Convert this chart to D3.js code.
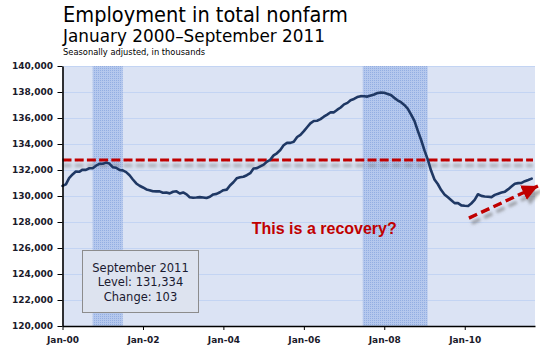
<!DOCTYPE html>
<html>
<head>
<meta charset="utf-8">
<script src="https://cdn.jsdelivr.net/npm/d3@7/dist/d3.min.js"></script>
<style>
  html, body { margin: 0; padding: 0; background: #ffffff; }
  svg { display: block; }
</style>
</head>
<body>
<script>
// ---------------- DATA ----------------
const titleText = "Employment in total nonfarm";
const subtitleText = "January 2000\u2013September 2011";
const noteText = "Seasonally adjusted, in thousands";

const firstMonth = "2000-01-01";
// Total nonfarm employment, thousands, monthly Jan 2000 – Sep 2011
const employment = [
  // 2000
  130781, 130898, 131370, 131658, 131883, 131862, 132024, 132010, 132135, 132129, 132331, 132469,
  // 2001
  132484, 132567, 132496, 132214, 132172, 132006, 131971, 131836, 131593, 131270, 130964, 130786,
  // 2002
  130656, 130504, 130448, 130361, 130352, 130356, 130253, 130264, 130203, 130327, 130360, 130191,
  // 2003
  130273, 130128, 129910, 129869, 129883, 129912, 129889, 129847, 129946, 130122, 130164, 130289,
  // 2004
  130445, 130490, 130813, 131059, 131360, 131436, 131478, 131600, 131757, 132110, 132147, 132279,
  // 2005
  132415, 132651, 132787, 133127, 133286, 133539, 133906, 134087, 134087, 134175, 134537, 134705,
  // 2006
  134990, 135305, 135588, 135771, 135792, 135911, 136100, 136262, 136440, 136436, 136639, 136810,
  // 2007
  137048, 137162, 137370, 137462, 137610, 137682, 137672, 137646, 137725, 137807, 137924, 137951,
  // 2008
  137941, 137853, 137767, 137550, 137363, 137218, 137004, 136718, 136258, 135778, 135007, 134307,
  // 2009
  133489, 132763, 131961, 131276, 130924, 130457, 130118, 129900, 129675, 129450, 129456, 129277,
  // 2010
  129246, 129232, 129424, 129701, 130133, 130009, 129966, 129940, 129916, 130087, 130180, 130266,
  // 2011
  130334, 130528, 130722, 130939, 130992, 131012, 131139, 131231, 131334
];

const xDomain = ["2000-01-01", "2011-10-01"];
const xTickDates = ["2000-01-01", "2002-01-01", "2004-01-01", "2006-01-01", "2008-01-01", "2010-01-01"];
const xTickLabels = ["Jan-00", "Jan-02", "Jan-04", "Jan-06", "Jan-08", "Jan-10"];
const yTicks = [120000, 122000, 124000, 126000, 128000, 130000, 132000, 134000, 136000, 138000, 140000];

const recessionStarts = ["2000-10-01", "2007-06-20"];
const recessionEnds = ["2001-07-01", "2009-01-29"];

const referenceLevel = 132770;

const arrowDates = ["2010-02-08", "2011-10-28"];
const arrowValues = [128300, 130770];

const annotationText = "This is a recovery?";
const annotationDate = "2004-09-15";
const annotationValue = 127040;

const tooltipLines = ["September 2011", "Level: 131,334", "Change: 103"];

// ---------------- LAYOUT ----------------
const W = 540, H = 356;
const margin = { left: 62.5, top: 66, right: 5, bottom: 30 };
const plotW = W - margin.left - margin.right;   // 472.5
const plotH = H - margin.top - margin.bottom;   // 260

const parse = d3.utcParse("%Y-%m-%d");
const start = parse(firstMonth);
const series = employment.map((v, i) => ({ date: d3.utcMonth.offset(start, i), value: v }));

const x = d3.scaleUtc().domain(xDomain.map(parse)).range([margin.left, margin.left + plotW]);
const y = d3.scaleLinear().domain([120000, 140000]).range([margin.top + plotH, margin.top]);

const svg = d3.select("body").append("svg").attr("width", W).attr("height", H);
const defs = svg.append("defs");

// band pattern (fine dotted grid)
const pat = defs.append("pattern").attr("id", "band").attr("width", 2).attr("height", 2)
  .attr("patternUnits", "userSpaceOnUse");
pat.append("rect").attr("width", 2).attr("height", 2).attr("fill", "#b5c8ed");
pat.append("rect").attr("width", 1).attr("height", 1).attr("fill", "#93aee2");

// drop shadow filters (user-space regions so zero-height lines still render)
const f1 = defs.append("filter").attr("id", "shadow").attr("filterUnits", "userSpaceOnUse")
  .attr("x", 0).attr("y", 0).attr("width", W).attr("height", H);
f1.append("feDropShadow").attr("dx", 0).attr("dy", 5.5).attr("stdDeviation", 1.4)
  .attr("flood-color", "#7a7a7a").attr("flood-opacity", 0.55);
const f2 = defs.append("filter").attr("id", "shadow2").attr("filterUnits", "userSpaceOnUse")
  .attr("x", 0).attr("y", 0).attr("width", W).attr("height", H);
f2.append("feDropShadow").attr("dx", 3).attr("dy", 5).attr("stdDeviation", 1.5)
  .attr("flood-color", "#6f6f6f").attr("flood-opacity", 0.6);

defs.append("marker").attr("id", "head").attr("markerUnits", "userSpaceOnUse")
  .attr("markerWidth", 18).attr("markerHeight", 18).attr("refX", 16).attr("refY", 8)
  .attr("orient", "auto")
  .append("path").attr("d", "M0,0 L16,8 L0,16 Z").attr("fill", "#c00000");

// ---------------- TITLES ----------------
const titleFont = "Tahoma, 'DejaVu Sans', Verdana, sans-serif";
svg.append("text").attr("x", 63).attr("y", 22).attr("font-family", titleFont)
  .attr("font-size", 21).attr("fill", "#000").attr("textLength", 285)
  .attr("lengthAdjust", "spacingAndGlyphs").text(titleText);
svg.append("text").attr("x", 63).attr("y", 42.3).attr("font-family", titleFont)
  .attr("font-size", 17).attr("fill", "#000").attr("textLength", 262)
  .attr("lengthAdjust", "spacingAndGlyphs").text(subtitleText);
svg.append("text").attr("x", 63).attr("y", 55).attr("font-family", titleFont)
  .attr("font-size", 8.5).attr("fill", "#000").attr("textLength", 142)
  .attr("lengthAdjust", "spacingAndGlyphs").text(noteText);

// ---------------- PLOT ----------------
svg.append("rect").attr("x", margin.left).attr("y", margin.top)
  .attr("width", plotW).attr("height", plotH).attr("fill", "#dbe3f4");

// gridlines
svg.append("g").selectAll("line").data(yTicks.filter(d => d > 120000)).join("line")
  .attr("x1", margin.left).attr("x2", margin.left + plotW)
  .attr("y1", d => Math.round(y(d)) + 0.5).attr("y2", d => Math.round(y(d)) + 0.5)
  .attr("stroke", "#c3d4f3").attr("stroke-width", 1);

// recession bands
svg.append("g").selectAll("rect").data(recessionStarts.map((s, i) => [parse(s), parse(recessionEnds[i])]))
  .join("rect")
  .attr("x", d => x(d[0])).attr("width", d => x(d[1]) - x(d[0]))
  .attr("y", margin.top).attr("height", plotH)
  .attr("fill", "url(#band)");

// reference dashed line
svg.append("line")
  .attr("x1", margin.left).attr("x2", margin.left + plotW - 2)
  .attr("y1", y(referenceLevel)).attr("y2", y(referenceLevel))
  .attr("stroke", "#c00000").attr("stroke-width", 3.2)
  .attr("stroke-dasharray", "9,3.2")
  .attr("filter", "url(#shadow)");

// series line
svg.append("path").datum(series)
  .attr("d", d3.line().x(d => x(d.date)).y(d => y(d.value)))
  .attr("fill", "none").attr("stroke", "#1f3864").attr("stroke-width", 2.6)
  .attr("stroke-linejoin", "round").attr("stroke-linecap", "round");

// arrow
const arrowPts = arrowDates.map((d, i) => [x(parse(d)), y(arrowValues[i])]);
svg.append("g").attr("filter", "url(#shadow2)")
  .append("path")
  .attr("d", d3.line()(arrowPts))
  .attr("stroke", "#c00000").attr("stroke-width", 3.4).attr("fill", "none")
  .attr("stroke-dasharray", "9,4.5")
  .attr("marker-end", "url(#head)");

// annotation text
svg.append("text").attr("x", x(parse(annotationDate))).attr("y", y(annotationValue))
  .attr("font-family", "Arial, 'Liberation Sans', sans-serif").attr("font-weight", "bold")
  .attr("font-size", 16).attr("fill", "#c00000").text(annotationText);

// ---------------- AXES ----------------
const axisFont = "Tahoma, 'DejaVu Sans', Verdana, sans-serif";
const yAxis = svg.append("g").attr("transform", `translate(${margin.left},0)`)
  .call(d3.axisLeft(y).tickValues(yTicks).tickFormat(d3.format(",")).tickSize(5).tickSizeOuter(0));
yAxis.select(".domain").attr("stroke", "#000").attr("stroke-width", 1.6);
yAxis.selectAll(".tick line").attr("stroke", "#000").attr("stroke-width", 1);
yAxis.selectAll(".tick text").attr("x", -9.5).attr("font-family", axisFont)
  .attr("font-weight", "bold").attr("font-size", 9).attr("fill", "#1a1a2a");

const xAxis = svg.append("g").attr("transform", `translate(0,${margin.top + plotH})`)
  .call(d3.axisBottom(x).tickValues(xTickDates.map(parse))
    .tickFormat((d, i) => xTickLabels[i]).tickSize(4).tickSizeOuter(0));
xAxis.select(".domain").attr("stroke", "#000").attr("stroke-width", 1.6);
xAxis.selectAll(".tick line").attr("stroke", "#000").attr("stroke-width", 1);
xAxis.selectAll(".tick text").attr("y", 11).attr("font-family", axisFont)
  .attr("font-weight", "bold").attr("font-size", 9).attr("fill", "#1a1a2a");

// ---------------- TOOLTIP BOX ----------------
const tip = svg.append("g");
tip.append("rect").attr("x", 82.5).attr("y", 250.5).attr("width", 116).attr("height", 62)
  .attr("fill", "#dde3ef").attr("stroke", "#8c8c8c").attr("stroke-width", 1);
tip.selectAll("text").data(tooltipLines).join("text")
  .attr("x", 140.5).attr("y", (d, i) => 271.5 + i * 14.5)
  .attr("text-anchor", "middle").attr("font-family", titleFont)
  .attr("font-size", 11.5).attr("fill", "#1a1a30").text(d => d);
</script>
</body>
</html>
